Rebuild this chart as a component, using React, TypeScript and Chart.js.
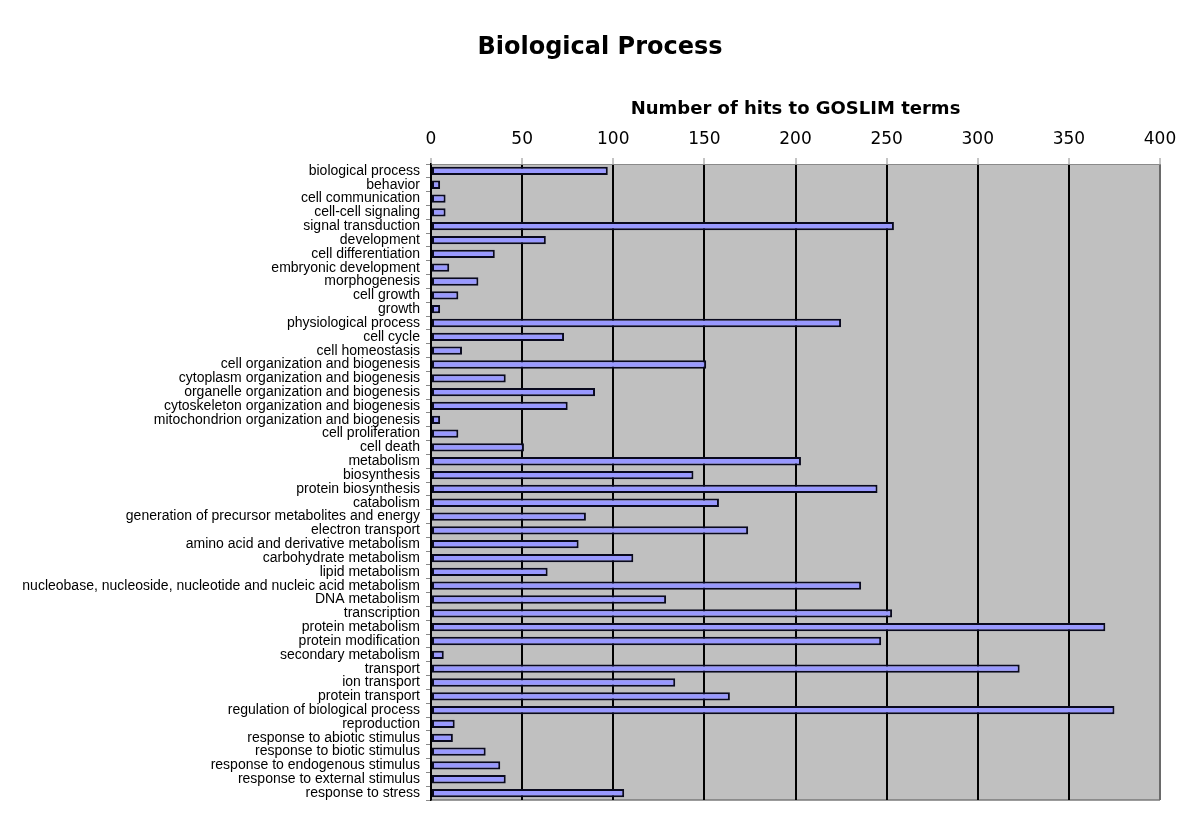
import React, { useEffect, useRef } from "react";
import { Chart, registerables } from "chart.js";

Chart.register(...registerables);

const chartTitle = "Biological Process";
const axisTitle = "Number of hits to GOSLIM terms";

const categories: string[] = [
  "biological process",
  "behavior",
  "cell communication",
  "cell-cell signaling",
  "signal transduction",
  "development",
  "cell differentiation",
  "embryonic development",
  "morphogenesis",
  "cell growth",
  "growth",
  "physiological process",
  "cell cycle",
  "cell homeostasis",
  "cell organization and biogenesis",
  "cytoplasm organization and biogenesis",
  "organelle organization and biogenesis",
  "cytoskeleton organization and biogenesis",
  "mitochondrion organization and biogenesis",
  "cell proliferation",
  "cell death",
  "metabolism",
  "biosynthesis",
  "protein biosynthesis",
  "catabolism",
  "generation of precursor metabolites and energy",
  "electron transport",
  "amino acid and derivative metabolism",
  "carbohydrate metabolism",
  "lipid metabolism",
  "nucleobase, nucleoside, nucleotide and nucleic acid metabolism",
  "DNA metabolism",
  "transcription",
  "protein metabolism",
  "protein modification",
  "secondary metabolism",
  "transport",
  "ion transport",
  "protein transport",
  "regulation of biological process",
  "reproduction",
  "response to abiotic stimulus",
  "response to biotic stimulus",
  "response to endogenous stimulus",
  "response to external stimulus",
  "response to stress",
];

const hits: number[] = [
  97, 5, 8, 8, 254, 63, 35, 10, 26, 15, 5, 225, 73, 17, 151, 41, 90, 75, 5, 15,
  51, 203, 144, 245, 158, 85, 174, 81, 111, 64, 236, 129, 253, 370, 247, 7, 323,
  134, 164, 375, 13, 12, 30, 38, 41, 106,
];

const xMin = 0;
const xMax = 400;
const xStep = 50;

const plotBackground = {
  id: "plotBackground",
  beforeDraw(chart: any) {
    const { ctx, chartArea } = chart;
    const { left, top, right, bottom } = chartArea;
    ctx.save();
    ctx.fillStyle = "#c0c0c0";
    ctx.fillRect(left, top, right - left, bottom - top);
    ctx.strokeStyle = "#7a7a7a";
    ctx.lineWidth = 1.5;
    ctx.beginPath();
    ctx.moveTo(left, bottom);
    ctx.lineTo(right, bottom);
    ctx.stroke();
    ctx.restore();
  },
  afterDraw(chart: any) {
    const { ctx } = chart;
    ctx.save();
    ctx.fillStyle = "#000";
    ctx.font = 'bold 24px "DejaVu Sans"';
    ctx.textAlign = "center";
    ctx.textBaseline = "alphabetic";
    ctx.fillText(chartTitle, 600, 54);
    ctx.restore();
  },
};

export default function App() {
  const canvasRef = useRef<HTMLCanvasElement | null>(null);

  useEffect(() => {
    if (!canvasRef.current) return;
    const chart = new Chart(canvasRef.current, {
      type: "bar",
      data: {
        labels: categories,
        datasets: [
          {
            data: hits,
            backgroundColor: "#9999ff",
            borderColor: "#0a0a1e",
            borderWidth: 2,
            borderSkipped: false,
            categoryPercentage: 1,
            barPercentage: 0.6,
          },
        ],
      },
      options: {
        indexAxis: "y",
        animation: false,
        responsive: false,
        maintainAspectRatio: false,
        layout: { padding: { left: 0, right: 40, top: 80, bottom: 22 } },
        plugins: {
          legend: { display: false },
          tooltip: { enabled: false },
          title: { display: false },
        },
        scales: {
          x: {
            type: "linear",
            position: "top",
            min: xMin,
            max: xMax,
            ticks: {
              stepSize: xStep,
              padding: 8,
              color: "#000",
              font: { family: '"DejaVu Sans"', size: 17 },
            },
            grid: {
              color: (c: any) => (c.tick && c.tick.value === xMax ? "#6a6a6a" : "#000"),
              lineWidth: 2,
              tickLength: 6,
              tickColor: "#8a8a8a",
              tickWidth: 1,
            },
            border: { display: true, color: "#8a8a8a", width: 1 },
            title: {
              display: true,
              text: axisTitle,
              color: "#000",
              font: { family: '"DejaVu Sans"', size: 18, weight: "bold" },
              padding: { top: 19, bottom: 0 },
            },
            afterFit(scale: any) {
              scale.height = 84;
            },
          },
          y: {
            type: "category",
            offset: true,
            ticks: {
              autoSkip: false,
              padding: 6,
              color: "#000",
              font: { family: '"Liberation Sans", Arial', size: 14 },
            },
            grid: {
              offset: true,
              drawOnChartArea: false,
              drawTicks: true,
              tickLength: 5,
              color: "#8a8a8a",
            },
            border: { display: true, color: "#000", width: 1.5 },
            afterFit(scale: any) {
              scale.width = 431;
            },
          },
        },
      },
      plugins: [plotBackground],
    });
    return () => chart.destroy();
  }, []);

  return (
    <div style={{ position: "absolute", left: 0, top: 0, width: 1200, height: 822, background: "#fff" }}>
      <canvas ref={canvasRef} width={1200} height={822} style={{ display: "block" }} />
    </div>
  );
}
